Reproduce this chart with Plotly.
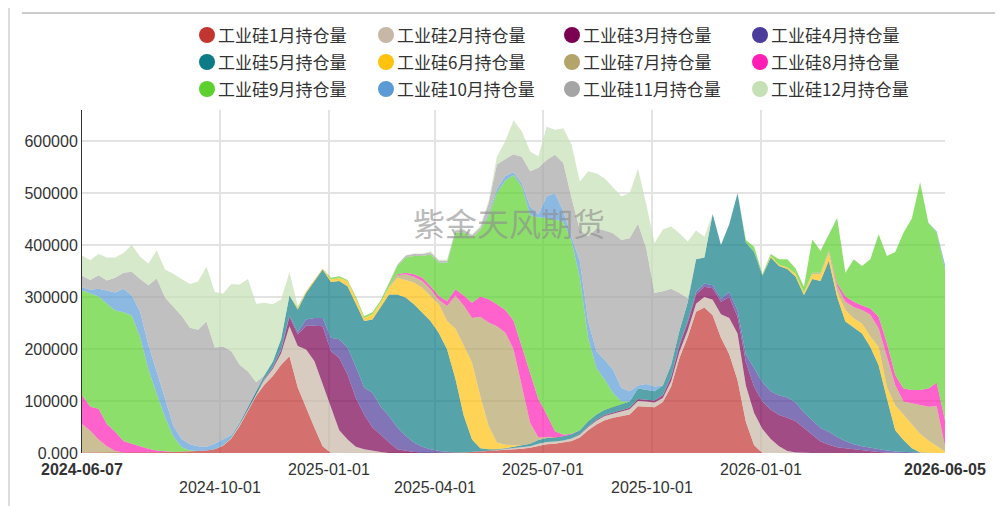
import pandas as pd
import plotly.graph_objects as go

# ---------------- data (open interest, thousand lots, weekly) ----------------
dates = pd.date_range("2024-06-07", "2026-06-05", freq="7D")

names = ["工业硅%d月持仓量" % m for m in range(1, 13)]

jan = [1,1,1,1,1,1,1,1,2,2, 2,2,3,3,4,5,7,14,28,52, 81,110,132,148,170,186,126,87,49,13,
       0,0,0,0,0,0,0,0,0,0, 0,0,0,0,0,1,1,2,3,3, 4,5,7,8,10,14,17,18,20,23,
       30,44,55,63,68,71,74,90,89,88, 98,128,183,223,272,280,265,222,190,140,
       60,15,0,0,0,0,0,0,0,0, 0,0,0,0,0,0,0,0,0,0, 0,0,0,0,0]
feb = [0,0,0,0,0,0,0,0,0,0, 0,0,0,0,0,0,0,1,2,3, 4,6,9,14,22,58,80,112,128,119,
       87,44,26,12,7,4,2,0,0,0, 0,0,0,0,0,0,0,0,1,1, 2,3,3,3,3,4,4,4,4,5,
       5,6,7,8,8,9,10,10,10,9, 8,10,12,13,15,20,30,45,70,90,
       70,62,46,27,13,4,1,0,0,0, 0,0,0,0,0,0,0,0,0,0, 0,0,0,0,0]
mar = [0,0,0,0,0,0,0,0,0,0, 0,0,0,0,0,0,0,0,0,0, 0,0,1,3,6,18,22,46,68,112,
       109,139,125,94,67,45,33,20,7,4, 2,0,0,0,0,0,0,0,0,0, 0,0,0,0,0,0,0,0,0,0,
       1,1,2,2,2,3,3,4,4,4, 5,8,12,15,18,20,22,24,40,32,
       45,50,53,56,60,64,60,48,34,22, 16,11,9,7,5,4,2,1,0,0, 0,0,0,0,0]
apr = [0,0,0,0,0,0,0,0,0,0, 0,0,0,0,0,0,0,0,0,0, 0,0,1,1,2,3,5,12,15,16,
       26,36,52,60,52,67,54,51,42,29, 18,12,7,4,2,0,0,0,0,0, 0,0,0,0,0,0,0,0,0,0,
       0,0,0,0,0,0,0,0,0,0, 1,2,3,4,5,6,6,6,10,12,
       15,35,37,36,38,39,36,30,28,26, 25,20,14,10,8,6,5,4,3,2, 1,0,0,0,0]
may = [0,0,0,0,0,0,0,0,0,0, 0,0,0,0,0,0,0,1,2,3, 4,5,7,10,20,38,43,51,71,93,
       107,112,118,122,128,141,192,234,256,266, 266,258,247,227,197,142,71,24,5,3,
       1,1,2,4,5,7,8,8,8,8, 8,10,10,10,10,11,12,20,18,18, 18,22,25,35,63,50,137,103,130,226,
       215,225,205,257,249,247,242,226,273,283, 329,269,230,225,217,194,162,100,41,23,
       8,1,0,0,0]
jun = [0,0,0,0,0,0,0,0,0,0, 0,0,0,0,0,0,0,0,0,0, 0,0,0,0,0,0,3,3,3,2,
       5,6,10,10,6,10,9,13,32,34, 42,48,48,55,55,96,135,148,100,45,
       13,7,3,0,0,0,0,0,0,0, 0,0,0,0,0,0,0,0,0,0, 0,0,0,0,0,0,0,0,0,0,
       0,0,0,3,2,3,6,5,9,13, 15,10,22,17,19,20,35,22,48,48, 45,36,24,13,3]
jul = [55,42,25,12,3,0,0,0,0,0, 0,0,0,0,0,0,0,0,0,0, 0,0,0,0,0,0,0,0,0,0,
       0,0,0,0,0,0,0,2,5,11, 11,13,13,9,29,64,77,86,153,199,
       224,216,185,111,40,5,2,0,0,0, 0,0,0,0,0,0,0,0,0,0, 0,0,0,0,0,0,0,0,0,0,
       0,0,0,0,0,0,0,0,3,3, 5,12,16,22,26,42,36,58,39,26, 42,55,65,77,10]
aug = [55,46,59,43,37,22,17,12,6,3, 1,0,0,0,0,0,0,0,0,0, 0,0,0,0,0,0,0,0,0,0,
       0,0,0,0,0,0,0,0,2,3, 5,6,6,7,9,12,19,29,39,45,
       42,43,55,79,96,74,43,12,3,1, 0,0,0,0,0,0,0,0,0,0, 0,0,0,0,0,0,0,0,0,0,
       0,0,0,0,0,0,0,0,0,0, 0,5,10,10,9,12,22,26,19,25, 25,29,35,45,50]
sep = [202,218,216,231,233,248,246,210,153,109, 66,30,8,2,0,0,0,0,0,0,
       0,0,0,0,0,0,2,0,0,0, 3,3,2,3,3,4,4,6,16,29, 35,42,61,64,74,109,122,125,128,160,
       215,249,280,308,304,349,378,407,410,370, 293,160,89,58,27,5,0,0,0,0,
       0,0,0,0,0,0,0,0,0,0, 5,10,3,4,11,16,10,11,64,42,
       30,125,46,82,76,95,159,168,237,300, 330,400,319,289,291]
oct_ = [6,7,15,25,35,45,39,49,47,43, 35,21,16,12,9,7,11,10,3,1,
        0,0,0,0,0,0,0,0,0,0, 0,0,0,0,0,0,0,0,0,0, 0,0,0,0,0,0,0,0,0,4,
        7,9,5,6,16,6,42,51,20,8, 32,32,33,38,45,26,20,6,12,9,
        0,0,0,0,0,0,0,0,0,0, 0,0,0,0,0,0,0,0,0,0, 0,0,0,0,0,0,0,0,0,0, 0,0,0,2,8]
nov = [22,19,26,20,28,31,46,63,115,179, 195,229,237,224,224,241,185,179,161,111,
       68,15,0,0,0,0,0,0,0,0, 0,0,0,0,0,0,0,2,2,4, 4,4,4,4,4,4,4,5,5,20,
       47,32,35,51,68,90,70,74,93,75, 60,164,236,249,263,285,294,311,261,180,
       181,146,73,8,0,0,0,0,0,0, 0,0,0,0,0,0,0,0,0,0, 0,0,0,0,0,0,0,0,0,0, 0,0,0,0,0]
dec = [39,38,41,44,39,38,51,43,41,54, 54,63,71,84,93,106,107,102,129,154,
       178,151,139,110,76,45,2,0,0,0, 0,0,0,0,0,0,0,0,0,0, 1,1,2,2,2,2,2,2,3,5,
       15,35,65,49,38,22,64,48,67,103, 93,125,106,100,87,84,87,106,84,96,
       119,120,115,109,55,40,0,0,0,0, 0,0,0,0,0,0,0,0,0,0, 0,0,0,0,0,0,0,0,0,0, 0,0,0,0,0]

series = [jan, feb, mar, apr, may, jun, jul, aug, sep, oct_, nov, dec]

colors = ["#C23531", "#C7B7A5", "#7B0051", "#4B3B9A", "#0E7C86", "#FFC20E",
          "#B5A46A", "#FF1FB4", "#5CD12E", "#5B9BD5", "#A5A5A5", "#C5E0B4"]

grid_dates = ["2024-10-01", "2025-01-01", "2025-04-01", "2025-07-01", "2025-10-01", "2026-01-01"]
xlab_row1 = ["2024-06-07", "2025-01-01", "2025-07-01", "2026-01-01", "2026-06-05"]
xlab_row2 = ["2024-10-01", "2025-04-01", "2025-10-01"]
ytick_vals = [0, 100000, 200000, 300000, 400000, 500000, 600000]
ytick_text = ["0.000", "100000", "200000", "300000", "400000", "500000", "600000"]

# ---------------- figure ----------------
# The page body has an 8px margin, so the figure is drawn 8px smaller and
# all placements below are given in screen pixels.
OFF = 8
W, H = 1003 - OFF, 506 - OFF
X0, X1, Y0, Y1 = 82, 945, 110, 453          # plot area in screen pixels
L, T = X0 - OFF, Y0 - OFF
R, B = W - (X1 - OFF), H - (Y1 - OFF)
PW, PH = X1 - X0, Y1 - Y0


def px(x):
    return (x - X0) / PW


def py(y):
    return (Y1 - y) / PH


def rgba(hexc, a):
    h = hexc.lstrip("#")
    return "rgba(%d,%d,%d,%.2f)" % (int(h[0:2], 16), int(h[2:4], 16), int(h[4:6], 16), a)


fig = go.Figure()
for name, vals, col in zip(names, series, colors):
    fig.add_trace(go.Scatter(
        x=dates, y=[v * 1000 for v in vals], name=name, mode="lines",
        stackgroup="one", line=dict(width=0, color=rgba(col, 0.7)),
        fillcolor=rgba(col, 0.7), showlegend=False,
    ))

font_cjk = "Noto Sans CJK SC, Liberation Sans, Arial, sans-serif"
font_num = "Liberation Sans, Arial, sans-serif"

fig.update_layout(
    width=W, height=H, autosize=False,
    margin=dict(l=L, r=R, t=T, b=B, pad=0),
    paper_bgcolor="white", plot_bgcolor="white",
    showlegend=False,
    xaxis=dict(
        type="date", range=["2024-06-07", "2026-06-05"],
        tickmode="array", tickvals=grid_dates, showticklabels=False,
        showgrid=True, gridcolor="#e3e3e3", gridwidth=1.5,
        zeroline=False, showline=False, ticks="",
    ),
    yaxis=dict(
        range=[0, 660000], tickmode="array", tickvals=ytick_vals, ticktext=ytick_text,
        showgrid=True, gridcolor="#e3e3e3", gridwidth=1.5,
        zeroline=False, showline=True, linecolor="#333333", linewidth=1,
        ticks="", tickfont=dict(family=font_num, size=16, color="#333333"),
    ),
)

annotations = []
for d in xlab_row1:
    txt = "<b>%s</b>" % d if d in ("2024-06-07", "2026-06-05") else d
    annotations.append(dict(x=d, xref="x", y=py(469), yref="paper", text=txt,
                            showarrow=False, xanchor="center", yanchor="middle",
                            font=dict(family=font_num, size=16, color="#333333")))
for d in xlab_row2:
    annotations.append(dict(x=d, xref="x", y=py(488), yref="paper", text=d,
                            showarrow=False, xanchor="center", yanchor="middle",
                            font=dict(family=font_num, size=16, color="#333333")))

# watermark
annotations.append(dict(x=px(509), y=py(222), xref="paper", yref="paper", text="紫金天风期货",
                        showarrow=False, xanchor="center", yanchor="middle",
                        font=dict(family=font_cjk, size=32, color="rgba(140,140,140,0.6)")))

# legend (manual, 4 columns x 3 rows)
col_x = [207, 386, 572, 760]
row_y = [35, 62, 89]
shapes = []
for i, (name, col) in enumerate(zip(names, colors)):
    cx = col_x[i % 4]
    cy = row_y[i // 4]
    shapes.append(dict(type="circle", xref="paper", yref="paper",
                       xsizemode="pixel", ysizemode="pixel",
                       xanchor=px(cx), yanchor=py(cy), x0=-8, x1=8, y0=-8, y1=8,
                       fillcolor=col, line=dict(width=0)))
    annotations.append(dict(x=px(cx + 9), y=py(cy), xref="paper", yref="paper", text=name,
                            showarrow=False, xanchor="left", yanchor="middle",
                            font=dict(family=font_cjk, size=17, color="#333333")))

# page chrome: top rule and left border
shapes.append(dict(type="line", xref="paper", yref="paper", x0=px(22), x1=px(1000),
                   y0=py(13), y1=py(13), line=dict(color="#cccccc", width=2)))
shapes.append(dict(type="line", xref="paper", yref="paper", x0=px(9), x1=px(9),
                   y0=py(8), y1=py(506), line=dict(color="#dddddd", width=2)))

fig.update_layout(annotations=annotations, shapes=shapes)
fig.write_html("out.html")
